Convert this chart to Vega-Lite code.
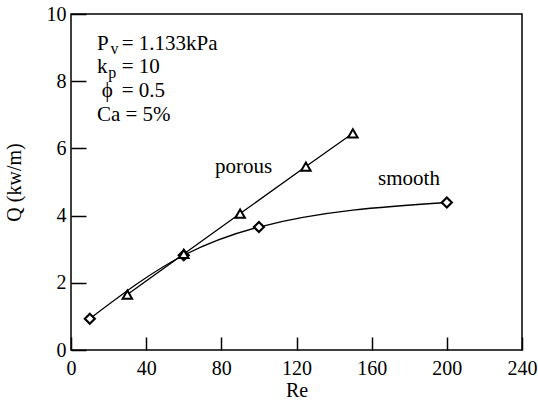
{
  "$schema": "https://vega.github.io/schema/vega-lite/v6.json",
  "width": 451,
  "height": 336,
  "autosize": {"type": "none"},
  "padding": {"left": 71, "top": 14, "right": 16, "bottom": 54},
  "background": "white",
  "config": {
    "view": {"stroke": "black", "strokeWidth": 1.5},
    "font": "Liberation Serif",
    "axis": {
      "grid": false,
      "domain": false,
      "labelFlush": false,
      "tickColor": "black",
      "tickWidth": 1.5,
      "labelColor": "black",
      "labelFont": "Liberation Serif",
      "labelFontSize": 20,
      "titleFont": "Liberation Serif",
      "titleFontSize": 20,
      "titleFontWeight": "normal",
      "titleColor": "black"
    }
  },
  "datasets": {
    "smooth": [
      {"Re": 10, "Q": 0.93},
      {"Re": 60, "Q": 2.82},
      {"Re": 100, "Q": 3.66},
      {"Re": 200, "Q": 4.39}
    ],
    "porous": [
      {"Re": 30, "Q": 1.65},
      {"Re": 60, "Q": 2.86},
      {"Re": 90, "Q": 4.06},
      {"Re": 125, "Q": 5.46},
      {"Re": 150, "Q": 6.45}
    ],
    "labels": [
      {"Re": 13.8, "Q": 8.93, "text": "P", "size": 21},
      {"Re": 21.0, "Q": 8.8, "text": "v", "size": 16},
      {"Re": 27, "Q": 8.93, "text": "= 1.133kPa", "size": 21},
      {"Re": 13.8, "Q": 8.24, "text": "k", "size": 21},
      {"Re": 19.8, "Q": 8.1, "text": "p", "size": 16},
      {"Re": 27, "Q": 8.24, "text": "= 10", "size": 21},
      {"Re": 16.3, "Q": 7.53, "text": "ϕ", "size": 21},
      {"Re": 27, "Q": 7.53, "text": "= 0.5", "size": 21},
      {"Re": 13.8, "Q": 6.82, "text": "Ca = 5%", "size": 21},
      {"Re": 76.6, "Q": 5.27, "text": "porous", "size": 21},
      {"Re": 163.4, "Q": 4.91, "text": "smooth", "size": 21}
    ]
  },
  "encoding": {
    "x": {
      "field": "Re",
      "type": "quantitative",
      "scale": {"domain": [0, 240], "nice": false, "zero": false},
      "axis": {"values": [0, 40, 80, 120, 160, 200, 240], "tickSize": -13, "labelPadding": 21, "title": "Re", "titlePadding": 2}
    },
    "y": {
      "field": "Q",
      "type": "quantitative",
      "scale": {"domain": [0, 10], "nice": false, "zero": false},
      "axis": {"values": [0, 2, 4, 6, 8, 10], "tickSize": -15, "labelPadding": 20, "title": "Q (kw/m)", "titlePadding": 22}
    }
  },
  "layer": [
    {
      "data": {"name": "smooth"},
      "mark": {"type": "line", "interpolate": "monotone", "color": "black", "strokeWidth": 1.3}
    },
    {
      "data": {"name": "smooth"},
      "mark": {"type": "point", "shape": "diamond", "size": 100, "filled": true, "fill": "white", "stroke": "black", "strokeWidth": 2.2, "opacity": 1}
    },
    {
      "data": {"name": "porous"},
      "mark": {"type": "line", "color": "black", "strokeWidth": 1.3}
    },
    {
      "data": {"name": "porous"},
      "mark": {"type": "point", "shape": "triangle-up", "size": 90, "filled": true, "fill": "white", "stroke": "black", "strokeWidth": 2, "opacity": 1}
    },
    {
      "data": {"name": "labels"},
      "mark": {"type": "text", "align": "left", "baseline": "alphabetic", "font": "Liberation Serif", "color": "black"},
      "encoding": {
        "text": {"field": "text"},
        "size": {"field": "size", "type": "quantitative", "scale": null}
      }
    }
  ]
}
